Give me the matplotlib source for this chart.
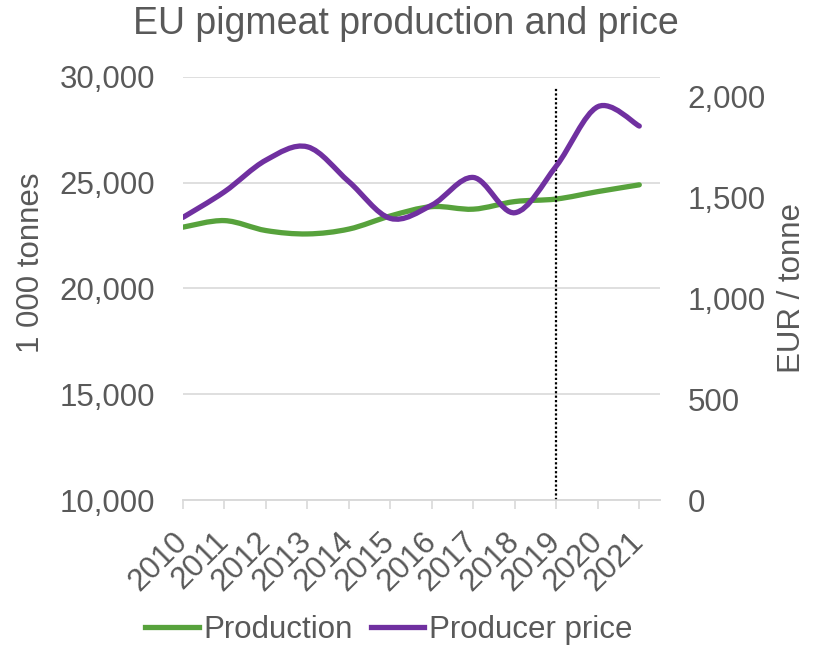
import matplotlib.pyplot as plt
import numpy as np
from matplotlib.path import Path
from matplotlib.patches import PathPatch
from matplotlib.lines import Line2D

plt.rcParams["font.family"] = ["Liberation Sans", "DejaVu Sans"]

# Data
years = [2010, 2011, 2012, 2013, 2014, 2015, 2016, 2017, 2018, 2019, 2020, 2021]
production = [22890, 23200, 22730, 22570, 22800, 23420, 23860, 23740, 24100, 24220, 24570, 24890]  # 1 000 t
price = [1402, 1529, 1686, 1752, 1579, 1397, 1463, 1600, 1425, 1657, 1951, 1855]  # EUR / t
outlook_start = 2019

TEXT = "#595959"
GREEN = "#57A23C"
PURPLE = "#7030A0"
GRID = "#D9D9D9"


def smooth_path(x, y):
    # Excel-style smoothed line: cubic bezier through every point
    x = np.asarray(x, float)
    y = np.asarray(y, float)
    px = np.concatenate([[x[0]], x, [x[-1]]])
    py = np.concatenate([[y[0]], y, [y[-1]]])
    verts = [(x[0], y[0])]
    codes = [Path.MOVETO]
    for i in range(1, len(px) - 2):
        c1 = (px[i] + (px[i + 1] - px[i - 1]) / 6, py[i] + (py[i + 1] - py[i - 1]) / 6)
        c2 = (px[i + 1] - (px[i + 2] - px[i]) / 6, py[i + 1] - (py[i + 2] - py[i]) / 6)
        verts += [c1, c2, (px[i + 1], py[i + 1])]
        codes += [Path.CURVE4] * 3
    return Path(verts, codes)


fig = plt.figure(figsize=(8.19, 6.47), dpi=100)
ax = fig.add_axes([0.2234, 0.2272, 0.5825, 0.6543])
ax2 = ax.twinx()

ax.set_xlim(years[0], years[-1] + 0.5)
ax.set_ylim(10000, 30000)
ax2.set_ylim(0, 2100)

ax.add_patch(PathPatch(smooth_path(years, production), facecolor="none",
                       edgecolor=GREEN, lw=3.8, capstyle="round", zorder=3))
ax2.add_patch(PathPatch(smooth_path(years, price), facecolor="none",
                        edgecolor=PURPLE, lw=3.8, capstyle="round", zorder=3))

ax.axvline(outlook_start, ymax=0.975, color="black", lw=1.6, ls=(0, (1, 1)), zorder=4)

ax.set_yticks(range(10000, 30001, 5000))
ax.set_yticklabels([f"{v:,}" for v in range(10000, 30001, 5000)])
ax2.set_yticks(range(0, 2001, 500))
ax2.set_yticklabels([f"{v:,}" for v in range(0, 2001, 500)])
ax.set_xticks(years)
ax.set_xticklabels([str(y) for y in years], rotation=45, ha="right", va="center",
                   rotation_mode="anchor")

ax.grid(axis="y", color=GRID, lw=1.2)
ax.set_axisbelow(True)
for a in (ax, ax2):
    for s in ("left", "right", "top"):
        a.spines[s].set_visible(False)
    a.spines["bottom"].set_color(GRID)
    a.spines["bottom"].set_linewidth(1.2)

ax.tick_params(axis="y", length=0, pad=20, labelsize=22.5, labelcolor=TEXT)
ax2.tick_params(axis="y", length=0, pad=20, labelsize=22.5, labelcolor=TEXT)
ax.tick_params(axis="x", length=6.5, width=1.2, color=GRID, pad=20, labelsize=22.5, labelcolor=TEXT)

ax.set_ylabel("1 000 tonnes", fontsize=22.5, color=TEXT, labelpad=10)
ax.yaxis.label.set_y(0.56)
ax2.set_ylabel("EUR / tonne", fontsize=22.5, color=TEXT, labelpad=8)
ax.set_title("EU pigmeat production and price", fontsize=27, color=TEXT, pad=31, x=0.468)

handles = [Line2D([], [], color=GREEN, lw=3.8), Line2D([], [], color=PURPLE, lw=3.8)]
fig.legend(handles, ["Production", "Producer price"], loc="center", bbox_to_anchor=(0.475, 0.026),
           ncol=2, frameon=False, fontsize=22.5, labelcolor=TEXT, handlelength=1.7,
           handletextpad=0.15, columnspacing=0.6)

fig.savefig("out.png", dpi=100)
